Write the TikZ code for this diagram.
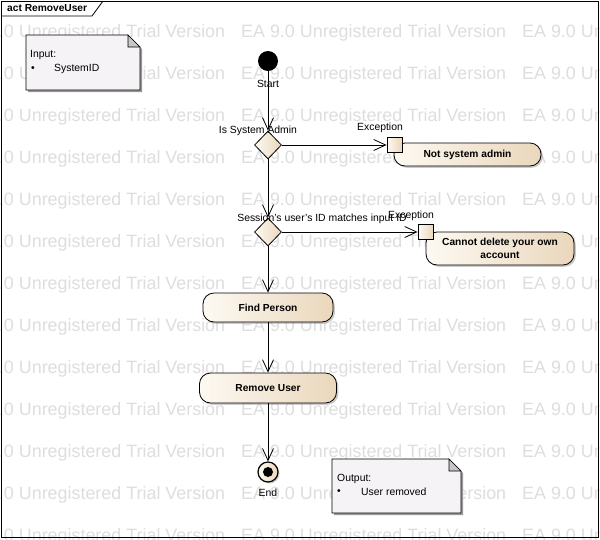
\documentclass[tikz,border=0pt]{standalone}
\usepackage{fontspec}
\setmainfont{Liberation Sans}
\usetikzlibrary{arrows.meta,shapes.geometric,shadows}
\definecolor{actL}{HTML}{FDF9F2}
\definecolor{actR}{HTML}{EAD7BC}
\definecolor{notefill}{HTML}{F6F3F6}
\definecolor{wm}{HTML}{DEDEDE}
\begin{document}
\begin{tikzpicture}[x=1pt,y=-1pt,
  lbl/.style={inner sep=0pt, font=\fontsize{10.4}{12}\selectfont},
  act/.style={draw, line width=0.8pt, rounded corners=11pt, left color=actL, right color=actR,
    font=\fontsize{10.2}{13}\selectfont\bfseries, align=center, inner sep=0pt,
    drop shadow={shadow xshift=1.8pt, shadow yshift=-1.8pt, fill=black!40}},
  decision/.style={diamond, draw, line width=0.8pt, left color=actL, right color=actR,
    minimum width=27pt, minimum height=28pt, inner sep=0pt},
  pinbox/.style={rectangle, draw, line width=0.8pt, left color=actL, right color=actR,
    minimum size=15pt, inner sep=0pt},
  flow/.style={line width=0.8pt, -{Straight Barb[length=12pt,width=11pt,line width=0.8pt]}},
  wmtext/.style={anchor=base west, inner sep=0pt, text=wm, font=\fontsize{17.9}{20}\selectfont},
  notetext/.style={anchor=west, inner sep=0pt, font=\fontsize{10.4}{12}\selectfont}
]
\useasboundingbox (0,0) rectangle (600,539);
\fill[white] (0,0) rectangle (600,539);
% watermark
\begin{scope}
\clip (0,0) rectangle (600,539);
\foreach \r in {0,...,12}{
  \foreach \c in {0,1,2}{
    \node[wmtext] at ({-40+281*\c},{37+42*\r}) {EA 9.0 Unregistered Trial Version};
  }
}
\end{scope}
% frame
\draw[line width=0.8pt] (1,1) rectangle (598,537);
\draw[line width=0.8pt] (1,16) -- (92,16) -- (103,1);
\node[anchor=west, inner sep=0pt, font=\fontsize{10.2}{12}\selectfont\bfseries] (title) at (7,8.5) {act RemoveUser};
% input note
\fill[black!40] (28,37) -- (130,37) -- (142,49) -- (142,92) -- (28,92) -- cycle;
\draw[line width=0.6pt, fill=notefill] (26,35) -- (128,35) -- (140,47) -- (140,90) -- (26,90) -- cycle;
\draw[line width=0.6pt, fill=black!22] (128,35) -- (128,47) -- (140,47) -- cycle;
\node[notetext] (inlbl) at (30,55) {Input:};
\node[notetext] (inb) at (31,69) {•};
\node[notetext] (inid) at (54,69) {SystemID};
% output note
\fill[black!40] (334,461) -- (451,461) -- (463,473) -- (463,515) -- (334,515) -- cycle;
\draw[line width=0.6pt, fill=notefill] (332,459) -- (449,459) -- (461,471) -- (461,513) -- (332,513) -- cycle;
\draw[line width=0.6pt, fill=black!22] (449,459) -- (449,471) -- (461,471) -- cycle;
\node[notetext] (outlbl) at (337,479) {Output:};
\node[notetext] (outb) at (337,492) {•};
\node[notetext] (outtxt) at (361,492) {User removed};
% nodes
\node[circle, fill=black, minimum size=20pt, inner sep=0pt] (start) at (268,61) {};
\node[lbl] (startlbl) at (268,84) {Start};
\node[decision] (d1) at (268,145) {};
\node[lbl] (d1lbl) at (258,131) {Is System Admin};
\node[act, minimum width=147pt, minimum height=23pt] (nsa) at (467.5,154.5) {Not system admin};
\node[pinbox] (pin1) at (394.5,145) {};
\node[lbl] (exc1) at (380,128) {Exception};
\node[decision] (d2) at (268,232) {};
\node[lbl] (d2lbl) at (322,219) {Session's user's ID matches input ID};
\node[act, minimum width=148pt, minimum height=33pt] (cnd) at (500,248.5) {Cannot delete your own\\account};
\node[pinbox] (pin2) at (425.5,232) {};
\node[lbl] (exc2) at (411,216) {Exception};
\node[act, minimum width=130pt, minimum height=29pt] (find) at (268,307.5) {Find Person};
\node[act, minimum width=137pt, minimum height=30pt] (remove) at (268,388) {Remove User};
\node[circle, draw, line width=1.2pt, left color=actL, right color=actR, minimum size=20pt, inner sep=0pt,
  drop shadow={shadow xshift=1.5pt, shadow yshift=-1.5pt, fill=black!40},
  path picture={\fill[black] (path picture bounding box.center) circle (5pt);}] (end) at (268,472) {};
\node[lbl] (endlbl) at (268,493) {End};
% connectors
\draw[flow] (start) -- (d1.north);
\draw[flow] (d1.east) -- (pin1.west);
\draw[flow] (d1.south) -- (d2.north);
\draw[flow] (d2.east) -- (pin2.west);
\draw[flow] (d2.south) -- (find.north);
\draw[flow] (find) -- (remove);
\draw[flow] (remove) -- (end);
\end{tikzpicture}
\end{document}
